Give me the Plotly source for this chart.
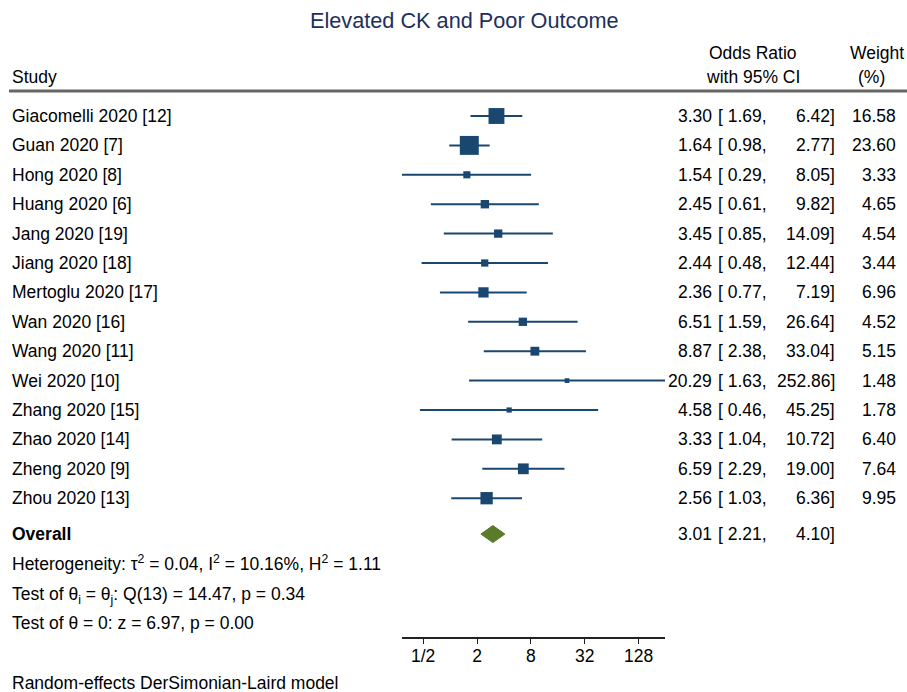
import math
import plotly.graph_objects as go

# ---------------- data ----------------
studies = ["Giacomelli 2020 [12]", "Guan 2020 [7]", "Hong 2020 [8]", "Huang 2020 [6]",
           "Jang 2020 [19]", "Jiang 2020 [18]", "Mertoglu 2020 [17]", "Wan 2020 [16]",
           "Wang 2020 [11]", "Wei 2020 [10]", "Zhang 2020 [15]", "Zhao 2020 [14]",
           "Zheng 2020 [9]", "Zhou 2020 [13]"]
odds = [3.30, 1.64, 1.54, 2.45, 3.45, 2.44, 2.36, 6.51, 8.87, 20.29, 4.58, 3.33, 6.59, 2.56]
lower = [1.69, 0.98, 0.29, 0.61, 0.85, 0.48, 0.77, 1.59, 2.38, 1.63, 0.46, 1.04, 2.29, 1.03]
upper = [6.42, 2.77, 8.05, 9.82, 14.09, 12.44, 7.19, 26.64, 33.04, 252.86, 45.25, 10.72, 19.00, 6.36]
weights = [16.58, 23.60, 3.33, 4.65, 4.54, 3.44, 6.96, 4.52, 5.15, 1.48, 1.78, 6.40, 7.64, 9.95]
overall_or, overall_lo, overall_hi = 3.01, 2.21, 4.10
tick_vals = [0.5, 2, 8, 32, 128]
tick_text = ["1/2", "2", "8", "32", "128"]

title = "Elevated CK and Poor Outcome"
het_text = "Heterogeneity: τ<sup>2</sup> = 0.04, I<sup>2</sup> = 10.16%, H<sup>2</sup> = 1.11"
test1_text = "Test of θ<sub>i</sub> = θ<sub>j</sub>: Q(13) = 14.47, p = 0.34"
test2_text = "Test of θ = 0: z = 6.97, p = 0.00"
model_text = "Random-effects DerSimonian-Laird model"

# ---------------- layout constants ----------------
W, H = 907, 692
ROW0, ROWH = 116, 29.4
NAVY = "#1a476f"
GREEN = "#5a7a2c"
FONT = "Liberation Sans, Arial, sans-serif"
FS = 17.5

def px(x):
    return x / W

def py(y):
    return 1 - y / H

rows = list(range(len(studies)))
overall_row = 14.22
het_row, test1_row, test2_row = 15.22, 16.3, 17.24

fig = go.Figure()

# CI lines
cx, cy = [], []
for lo, hi, r in zip(lower, upper, rows):
    cx += [lo, hi, None]
    cy += [r, r, None]
fig.add_trace(go.Scatter(x=cx, y=cy, mode="lines", line=dict(color=NAVY, width=2),
                         hoverinfo="skip"))

# squares sized by weight
fig.add_trace(go.Scatter(x=odds, y=rows, mode="markers",
                         marker=dict(symbol="square", color=NAVY, opacity=1,
                                     size=[3.9 * math.sqrt(w) for w in weights],
                                     line=dict(width=0))))

# overall diamond
h = 0.29
fig.add_trace(go.Scatter(x=[overall_lo, overall_or, overall_hi, overall_or, overall_lo],
                         y=[overall_row, overall_row - h, overall_row, overall_row + h, overall_row],
                         mode="lines", fill="toself", fillcolor=GREEN,
                         line=dict(color=GREEN, width=1)))

ann = []
def T(text, x, y, anchor="left", yref="y", size=FS, color="black"):
    ann.append(dict(text=text, x=px(x), xref="paper", y=y, yref=yref,
                    xanchor=anchor, yanchor="middle", showarrow=False,
                    font=dict(family=FONT, size=size, color=color)))

# headers
T("Study", 10, py(77), yref="paper")
T("Odds Ratio", 753, py(53), anchor="center", yref="paper")
T("with 95% CI", 753, py(77), anchor="center", yref="paper")
T("Weight", 877, py(53), anchor="center", yref="paper")
T("(%)", 871, py(77), anchor="center", yref="paper")

for s, o, lo, hi, w, r in zip(studies, odds, lower, upper, weights, rows):
    T(s, 10, r)
    T(f"{o:.2f}", 714, r, anchor="right")
    T(f"[ {lo:.2f},", 716, r)
    T(f"{hi:.2f}]", 837, r, anchor="right")
    T(f"{w:.2f}", 898, r, anchor="right")

T("<b>Overall</b>", 10, overall_row)
T(f"{overall_or:.2f}", 714, overall_row, anchor="right")
T(f"[ {overall_lo:.2f},", 716, overall_row)
T(f"{overall_hi:.2f}]", 837, overall_row, anchor="right")
T(het_text, 10, het_row)
T(test1_text, 10, test1_row)
T(test2_text, 10, test2_row)
T(model_text, 10, py(683), yref="paper")

ann.append(dict(text=title, x=px(464), xref="paper", y=py(20), yref="paper",
                xanchor="center", yanchor="middle", showarrow=False,
                font=dict(family=FONT, size=21.7, color="#1e2f5e")))

fig.update_layout(
    width=W, height=H, margin=dict(l=0, r=0, t=0, b=0),
    paper_bgcolor="white", plot_bgcolor="white", showlegend=False,
    annotations=ann,
    shapes=[dict(type="line", xref="paper", yref="paper", x0=px(9), x1=1,
                 y0=py(91), y1=py(91), line=dict(color="#666666", width=3))],
    xaxis=dict(type="log", domain=[px(402), px(665)],
               range=[math.log10(0.29), math.log10(252.86)],
               anchor="free", position=py(638),
               showline=True, linecolor="#222222", linewidth=1.5,
               ticks="outside", ticklen=5, tickcolor="#222222", tickwidth=1.2,
               ticklabelstandoff=-3,
               tickvals=tick_vals, ticktext=tick_text,
               tickfont=dict(family=FONT, size=FS, color="black"),
               showgrid=False, zeroline=False),
    yaxis=dict(domain=[0, 1], range=[(H - ROW0) / ROWH, -ROW0 / ROWH],
               visible=False, showgrid=False, zeroline=False),
)

fig.write_html("out.html", config={"displayModeBar": False},
               post_script="document.body.style.margin='0';document.body.style.overflow='hidden';")
